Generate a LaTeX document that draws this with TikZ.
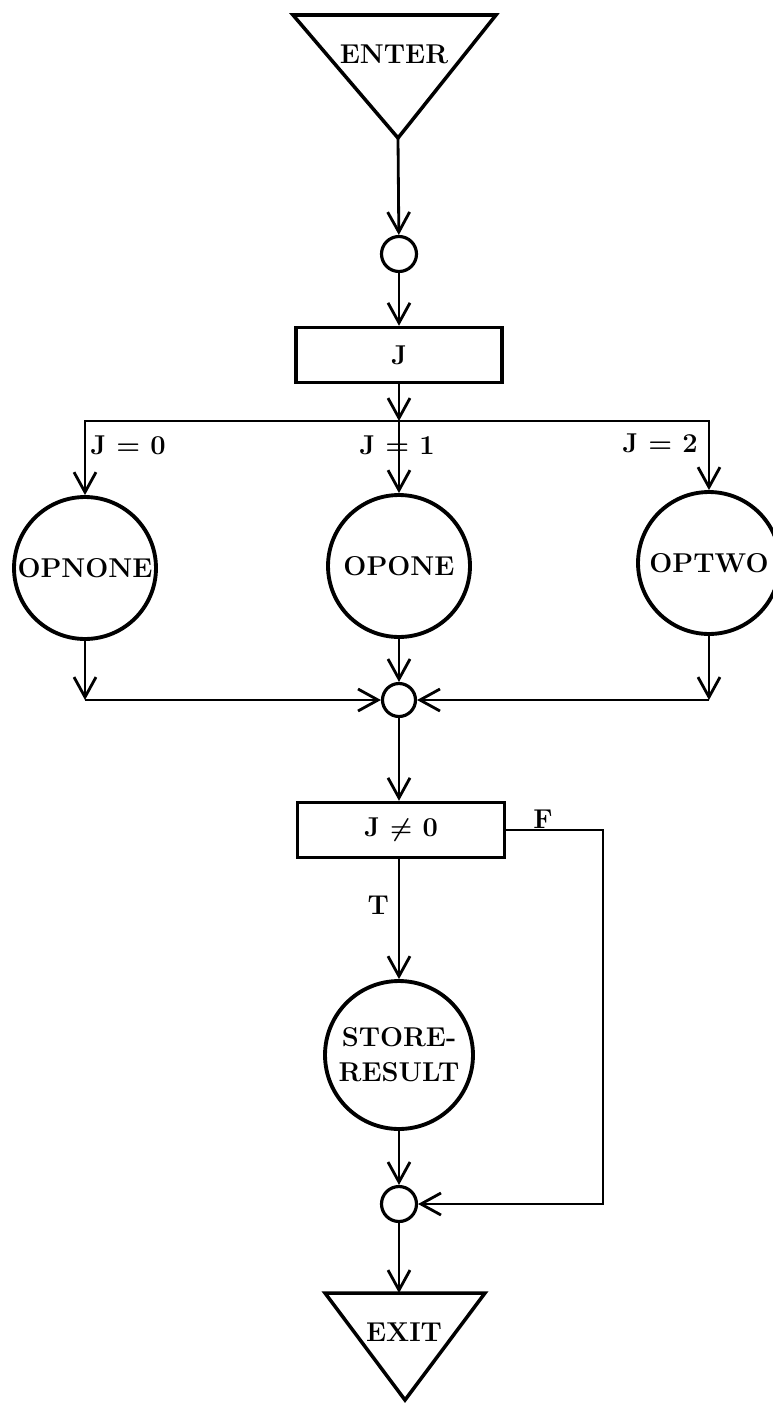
\documentclass[tikz,border=0pt]{standalone}
\usepackage{amsmath,amssymb}
\usepackage{fontspec}
\usepackage{xcolor}
\usepackage{tikz}
\usetikzlibrary{arrows.meta, positioning, calc}
\newcommand{\chartfont}{\fontsize{15.5}{20}\selectfont\bfseries}
\tikzset{
  % Flowchart styles
  process/.style={rectangle, minimum width=4.12cm, minimum height=1.1cm, text centered, draw=black, line width=2pt, font=\chartfont},
  module/.style={circle, minimum size=2.84cm, inner sep=0pt, text centered, align=center, draw=black, line width=2.2pt, font=\chartfont},
  joint/.style={circle, minimum size=0.7cm, inner sep=0pt, draw=black, line width=1.8pt},
  terminal/.style={draw=black, line width=2pt, line join=miter},
  arrow/.style={-{Straight Barb[length=4mm, width=4.4mm]}, line width=1.6pt},
  flowline/.style={line width=1.6pt},
  tag/.style={font=\chartfont, inner sep=1pt},
}

\begin{document}
\begin{tikzpicture}[x=0.02cm, y=-0.02cm]
    \useasboundingbox (0,0) rectangle (773,1403);

    % Enter terminal
    \draw[terminal] (293,15) -- (496,15) -- (398,138) -- cycle;
    \coordinate (enterTip) at (398,138);
    \node[tag] (enter) at (394,54) {ENTER};

    % Switch on J
    \node[joint] (j1) at (399,254) {};
    \node[process] (jbox) at (399,355) {J};
    \coordinate (split) at (399,421);
    \coordinate (splitL) at (85,421);
    \coordinate (splitR) at (709,421);

    % Operation routines
    \node[module] (opnone) at (85,568) {OPNONE};
    \node[module] (opone) at (399,566) {OPONE};
    \node[module] (optwo) at (709,563) {OPTWO};

    % Case labels
    \node[tag] (case0) at (128,445) {J = 0};
    \node[tag] (case1) at (397,445) {J = 1};
    \node[tag] (case2) at (660,443) {J = 2};

    % Merge
    \node[joint, minimum size=0.66cm] (j2) at (399,700) {};
    \coordinate (mergeL) at (85,700);
    \coordinate (mergeR) at (709,700);

    % Test and store
    \node[process, minimum width=4.14cm] (test) at (401,830) {J $\boldsymbol{\neq}$ 0};
    \node[module, minimum size=2.96cm] (store) at (399,1055) {STORE-\\RESULT};
    \node[joint] (j3) at (399,1204) {};
    \coordinate (falseTop) at (603,830);
    \coordinate (falseBot) at (603,1204);

    % Exit terminal
    \draw[terminal] (325,1293) -- (485,1293) -- (405,1400) -- cycle;
    \coordinate (exitTop) at (399,1293);
    \node[tag] (exit) at (404,1332) {EXIT};

    \draw[arrow] (enterTip) -- (j1);
    \draw[arrow] (j1) -- (jbox);
    \draw[arrow] (jbox) -- (split);
    \draw[flowline, line cap=rect] (splitL) -- (splitR);
    \draw[arrow] (splitL) -- (opnone);
    \draw[arrow] (split) -- (opone);
    \draw[arrow] (splitR) -- (optwo);

    \draw[arrow] (opnone) -- (mergeL);
    \draw[arrow] (mergeL) -- (j2);
    \draw[arrow] (optwo) -- (mergeR);
    \draw[arrow] (mergeR) -- (j2);
    \draw[arrow] (opone) -- (j2);

    \draw[arrow] (j2) -- (j2 |- test.north);
    \draw[arrow] (store |- test.south) -- node[tag, left=4pt, pos=0.38] {T} (store);
    \draw[arrow] (test.east) -- node[tag, above, inner sep=0pt, pos=0.38] {F} (falseTop) -- (falseBot) -- (j3);
    \draw[arrow] (store) -- (j3);
    \draw[arrow] (j3) -- (exitTop);
  \end{tikzpicture}
\end{document}
